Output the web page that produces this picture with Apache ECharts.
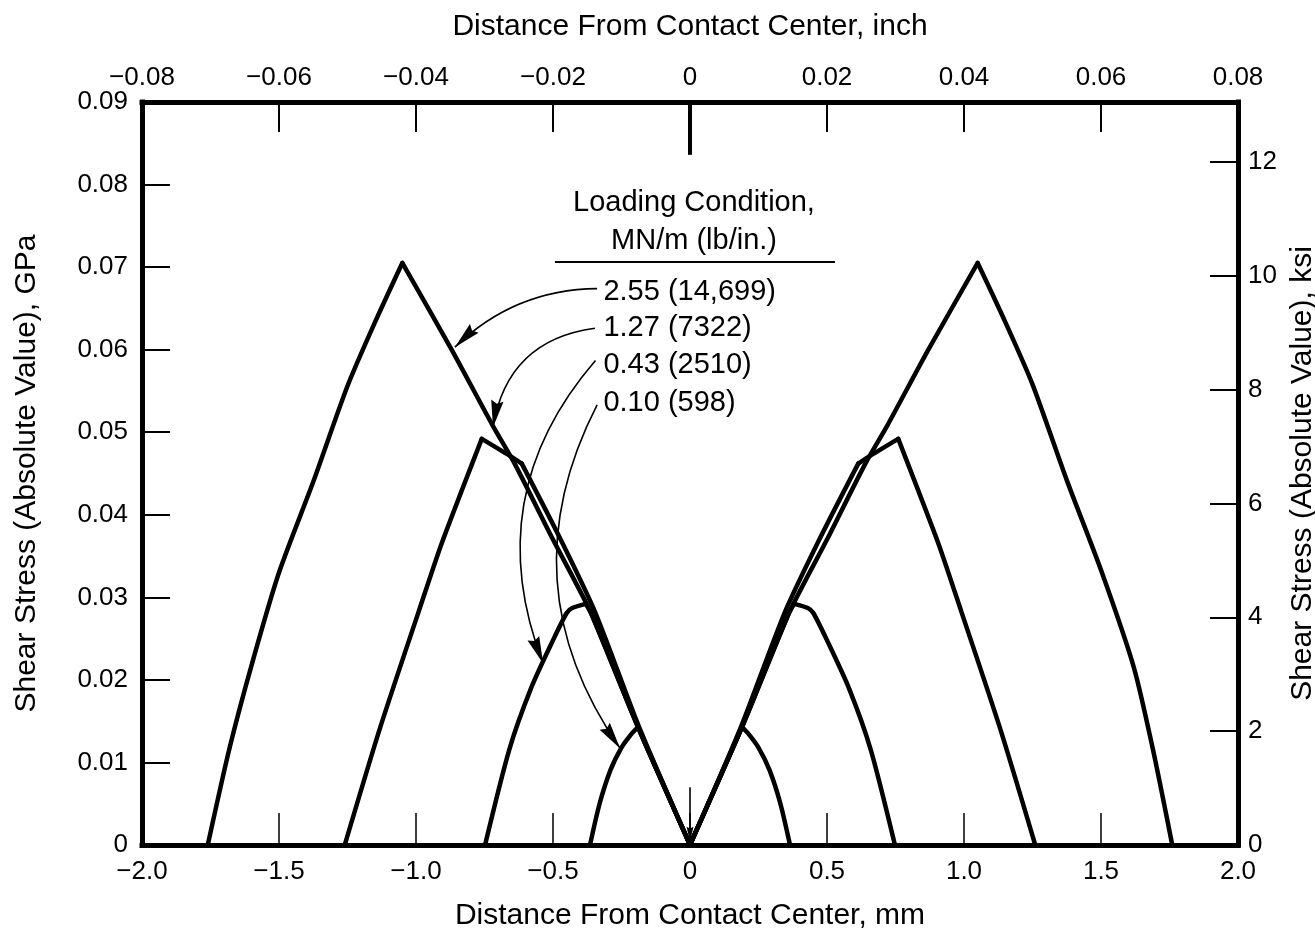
<!DOCTYPE html>
<html><head><meta charset="utf-8">
<script src="https://cdn.jsdelivr.net/npm/echarts@6/dist/echarts.min.js"></script>
<style>html,body{margin:0;padding:0;background:#fff}#c{width:1315px;height:935px}</style>
</head><body><div id="c"></div>
<script>
// ---- tick labels ----
const mmTicks = ['\u22122.0','\u22121.5','\u22121.0','\u22120.5','0','0.5','1.0','1.5','2.0'];
const inchTicks = ['\u22120.08','\u22120.06','\u22120.04','\u22120.02','0','0.02','0.04','0.06','0.08'];
const gpaTicks = ['0','0.01','0.02','0.03','0.04','0.05','0.06','0.07','0.08','0.09'];
const ksiTicks = ['0','2','4','6','8','10','12'];

// ---- series: [distance mm, shear stress GPa] ----
const load255 = [[-1.76,0],[-1.68,0.0118],[-1.60,0.0218],[-1.50,0.0330],[-1.375,0.0440],[-1.25,0.0556],[-1.15,0.0633],[-1.05,0.0705],
  [-0.87,0.0600],[-0.72,0.0508],[-0.64,0.0462],[-0.50,0.0370],[-0.36,0.0280],[-0.19,0.0143],[0,0],
  [0.19,0.0143],[0.36,0.0280],[0.50,0.0370],[0.64,0.0462],[0.72,0.0508],[0.87,0.0600],[1.05,0.0705],
  [1.15,0.0634],[1.25,0.0558],[1.375,0.0442],[1.50,0.0333],[1.62,0.0215],[1.69,0.0115],[1.76,0]];
const load127 = [[-1.26,0],[-1.13,0.0143],[-0.99,0.0283],[-0.91,0.0362],[-0.83,0.0432],[-0.76,0.0492],[-0.66,0.0472],[-0.614,0.0462],
  [-0.472,0.0370],[-0.345,0.0281],[-0.186,0.0143],[0,0],
  [0.186,0.0143],[0.345,0.0281],[0.472,0.0370],[0.614,0.0462],[0.66,0.0472],[0.76,0.0492],[0.83,0.0432],[0.91,0.0362],
  [0.99,0.0283],[1.13,0.0143],[1.26,0]];
const load043 = [[-0.748,0],[-0.66,0.0115],[-0.58,0.0190],[-0.50,0.0248],[-0.45,0.0281],[-0.43,0.0287],[-0.38,0.0292],[-0.36,0.0280],
  [-0.19,0.0143],[0,0],
  [0.19,0.0143],[0.36,0.0280],[0.38,0.0292],[0.43,0.0287],[0.45,0.0281],[0.50,0.0248],[0.58,0.0190],[0.66,0.0115],[0.748,0]];
const load010 = [[-0.365,0],[-0.33,0.0050],[-0.29,0.0091],[-0.25,0.0118],[-0.215,0.0134],[-0.19,0.0143],[0,0],
  [0.19,0.0143],[0.215,0.0134],[0.25,0.0118],[0.29,0.0091],[0.33,0.0050],[0.365,0]];

const loadNames = ['2.55 (14,699)','1.27 (7322)','0.43 (2510)','0.10 (598)'];
const headerLines = ['Loading Condition,','MN/m (lb/in.)'];

// ---- annotation anchors (data coordinates) ----
const headerAnchors = [[0.0146,0.0778],[0.0146,0.0732]];
const underline = [[-0.493,0.0707],[0.529,0.0707]];
const labelAnchors = [[-0.316,0.0670],[-0.316,0.0626],[-0.316,0.0581],[-0.316,0.0535]];
const leaders = [
  {from:[-0.339,0.0674], to:[-0.858,0.0603], curve:-0.2},
  {from:[-0.347,0.0626], to:[-0.719,0.0506], curve:-0.37},
  {from:[-0.345,0.0587], to:[-0.536,0.0220], curve:-0.3},
  {from:[-0.339,0.0533], to:[-0.255,0.0117], curve:-0.3}
];
const centerArrow = [[0,0.0070],[0,0.0004]];
const topZeroTick = [[0,0.09],[0,0.0836]];

const FONT = 'Liberation Sans';
const KSI_MAX = 0.09/0.00689476;
const arrowPath = 'path://M0,0 M52,0 M0,52 M26,26 L32,52 L26,49 L20,52 Z';

// split a polyline at sharp corners so each piece can be smoothed separately
function splitAtCorners(data){
  const ax = 1/4, ay = 1/0.09 * (743/1096);
  const ang = (a,b)=>Math.atan2((b[1]-a[1])*ay,(b[0]-a[0])*ax);
  const pieces=[]; let cur=[data[0]];
  for(let i=1;i<data.length;i++){
    cur.push(data[i]);
    if(i<data.length-1){
      let d = Math.abs(ang(data[i-1],data[i]) - ang(data[i],data[i+1]));
      if(d>Math.PI) d = 2*Math.PI-d;
      if(d > 0.45){ pieces.push(cur); cur=[data[i]]; }
    }
  }
  pieces.push(cur);
  return pieces;
}

const chart = echarts.init(document.getElementById('c'), null, {renderer:'canvas'});
const axisLineStyle = {color:'#000', width:5, cap:'square'};
const tickLab = {color:'#000', fontSize:26, fontFamily:FONT};
const nameStyle = {color:'#000', fontSize:30, fontFamily:FONT};

const curveSeries = [];
[load255, load127, load043, load010].forEach((d, k)=>{
  splitAtCorners(d).forEach(piece=>{
    curveSeries.push({type:'line', name:loadNames[k], data:piece, xAxisIndex:0, yAxisIndex:0,
      showSymbol:false, symbol:'none', smooth:0.25,
      lineStyle:{color:'#000', width:4.5, join:'round', cap:'round'}, z:5, silent:true});
  });
});

chart.setOption({
  backgroundColor:'#fff',
  animation:false,
  grid:{left:142, right:77, top:102, bottom:90, outerBoundsMode:'none', containLabel:false},
  xAxis:[
    {type:'value', position:'bottom', min:-2, max:2, interval:0.5,
     name:'Distance From Contact Center, mm', nameLocation:'middle', nameGap:56, nameTextStyle:nameStyle,
     axisLine:{show:true, onZero:false, lineStyle:axisLineStyle},
     axisTick:{show:true, inside:true, length:32, lineStyle:{color:'#000', width:1.5}},
     axisLabel:Object.assign({margin:14, formatter:(v)=>mmTicks[Math.round((v+2)/0.5)]}, tickLab),
     splitLine:{show:false}},
    {type:'value', position:'top', min:-0.08, max:0.08, interval:0.02,
     name:'Distance From Contact Center, inch', nameLocation:'middle', nameGap:60, nameTextStyle:nameStyle,
     axisLine:{show:true, onZero:false, lineStyle:axisLineStyle},
     axisTick:{show:true, inside:true, length:30, lineStyle:{color:'#000', width:2}},
     axisLabel:Object.assign({margin:11, formatter:(v)=>inchTicks[Math.round((v+0.08)/0.02)]}, tickLab),
     splitLine:{show:false}}
  ],
  yAxis:[
    {type:'value', position:'left', min:0, max:0.09, interval:0.01,
     name:'Shear Stress (Absolute Value), GPa', nameLocation:'middle', nameGap:100, nameRotate:90, nameTextStyle:nameStyle,
     axisLine:{show:true, onZero:false, lineStyle:axisLineStyle},
     axisTick:{show:true, inside:true, length:28, lineStyle:{color:'#000', width:2}},
     axisLabel:Object.assign({margin:14, formatter:(v)=>gpaTicks[Math.round(v/0.01)]}, tickLab),
     splitLine:{show:false}},
    {type:'value', position:'right', min:0, max:KSI_MAX, interval:2,
     name:'Shear Stress (Absolute Value), ksi', nameLocation:'middle', nameGap:36, nameRotate:90, nameTextStyle:nameStyle,
     axisLine:{show:true, onZero:false, lineStyle:axisLineStyle},
     axisTick:{show:true, inside:true, length:28, lineStyle:{color:'#000', width:2}},
     axisLabel:Object.assign({margin:10, formatter:(v)=>{const i=Math.round(v/2); return Math.abs(v/2-i)<1e-6 ? (ksiTicks[i]||'') : '';}}, tickLab),
     splitLine:{show:false}}
  ],
  series: curveSeries.concat([
    {type:'lines', coordinateSystem:'cartesian2d', xAxisIndex:0, yAxisIndex:0, silent:true, z:6,
     symbol:['none', arrowPath], symbolSize:54,
     lineStyle:{color:'#000', width:1.6, opacity:1},
     data: leaders.map(l=>({coords:[l.from, l.to], lineStyle:{curveness:l.curve}}))},
    {type:'lines', coordinateSystem:'cartesian2d', xAxisIndex:0, yAxisIndex:0, silent:true, z:6,
     symbol:['none', arrowPath], symbolSize:30,
     lineStyle:{color:'#000', width:1.6, opacity:1, curveness:0},
     data:[{coords:centerArrow}]},
    {type:'lines', coordinateSystem:'cartesian2d', xAxisIndex:0, yAxisIndex:0, silent:true, z:6,
     symbol:['none','none'],
     lineStyle:{color:'#000', width:2, opacity:1, curveness:0},
     data:[{coords:underline}]},
    {type:'lines', coordinateSystem:'cartesian2d', xAxisIndex:0, yAxisIndex:0, silent:true, z:6,
     symbol:['none','none'],
     lineStyle:{color:'#000', width:4, opacity:1, curveness:0},
     data:[{coords:topZeroTick}]},
    {type:'scatter', xAxisIndex:0, yAxisIndex:0, silent:true, symbolSize:0, itemStyle:{color:'#000', opacity:1}, z:7,
     data: headerLines.map((t,i)=>({name:t, value:headerAnchors[i]})),
     label:{show:true, position:'inside', formatter:'{b}', color:'#000', opacity:1, textBorderWidth:0, fontSize:29, fontFamily:FONT}},
    {type:'scatter', xAxisIndex:0, yAxisIndex:0, silent:true, symbolSize:0, itemStyle:{color:'#000', opacity:1}, z:7,
     data: loadNames.map((t,i)=>({name:t, value:labelAnchors[i]})),
     label:{show:true, position:'right', distance:0, formatter:'{b}', color:'#000', opacity:1, textBorderWidth:0, fontSize:29, fontFamily:FONT}}
  ])
});
</script>
</body></html>
